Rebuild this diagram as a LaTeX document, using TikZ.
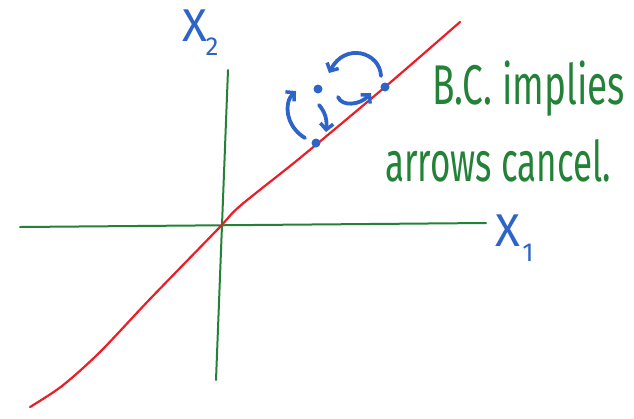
\documentclass[tikz,border=0pt]{standalone}
\usepackage{fontspec}
\setmainfont{Fira Sans}
\usetikzlibrary{arrows.meta}
\definecolor{axgreen}{RGB}{35,130,55}
\definecolor{inkblue}{RGB}{45,100,200}
\definecolor{inkred}{RGB}{235,30,40}
\tikzset{
  axis/.style={draw=axgreen, line width=2pt, line cap=round},
  curve/.style={draw=inkred, line width=2.2pt, line cap=round, line join=round},
  ink/.style={draw=inkblue, line width=3.8pt, line cap=round},
  inkarrow/.style={ink, -{Straight Barb[length=6pt,width=13pt,line width=3.5pt]}},
  dotmark/.style={circle, fill=inkblue, inner sep=0pt, minimum size=9pt},
  handtext/.style={text=axgreen, inner sep=0pt, anchor=base west, font=\fontsize{56}{56}\selectfont},
  axlabel/.style={text=inkblue, inner sep=0pt, font=\fontsize{46}{46}\selectfont},
  sublabel/.style={text=inkblue, inner sep=0pt, font=\fontsize{26}{26}\selectfont}
}
\begin{document}
\begin{tikzpicture}[x=1pt,y=-1pt]
\useasboundingbox (0,0) rectangle (634,418);
% axes
\coordinate (hL) at (20,227);
\coordinate (hR) at (486,223);
\coordinate (vT) at (228,70);
\coordinate (vB) at (216,380);
\draw[axis] (hL) -- (hR);
\draw[axis] (vT) -- (vB);
% red curve
\draw[curve] plot[smooth, tension=0.5] coordinates {(30,407) (62,386) (100,352) (150,299) (218,229) (240,206) (300,158) (385,87) (460,22)};
% blue dots
\node[dotmark] (d1) at (316,143) {};
\node[dotmark] (d2) at (385,87) {};
\node[dotmark] (d3) at (318,89) {};
% blue arrows
\draw[inkarrow] (381,76) .. controls (380,52) and (345,42) .. (329,73);
\draw[inkarrow] (338,97) .. controls (342,107) and (360,105) .. (371,93);
\draw[inkarrow] (319,105) .. controls (326,113) and (327,121) .. (326,132);
\draw[inkarrow] (305,138) .. controls (285,126) and (284,102) .. (296,91);
% axis labels
\node[axlabel, anchor=center] (x2) at (195,26) {X};
\node[sublabel, anchor=center] (x2s) at (212,47) {2};
\node[axlabel, anchor=center] (x1) at (508,231) {X};
\node[sublabel, anchor=center] (x1s) at (528,253) {1};
% text
\node[handtext] (t1) at (432,104) {\scalebox{0.66}[1]{B.C. implies}};
\node[handtext] (t2) at (385,181) {\scalebox{0.625}[1]{arrows cancel.}};
\end{tikzpicture}
\end{document}
